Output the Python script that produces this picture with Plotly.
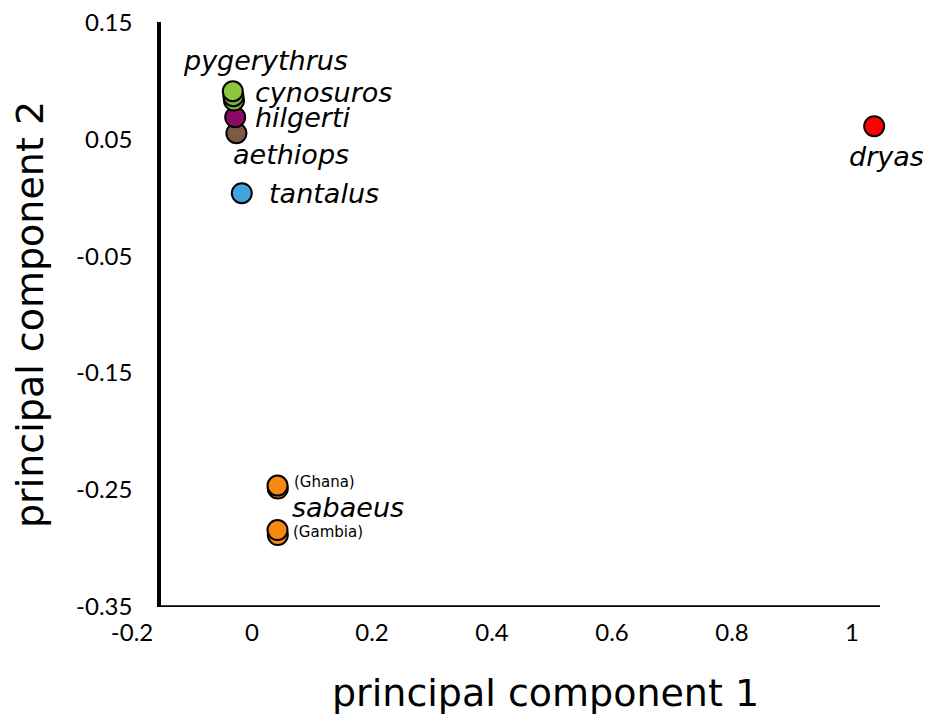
import plotly.graph_objects as go

# ---------------- data ----------------
GROUP = ["sabaeus", "sabaeus", "sabaeus", "sabaeus",
         "aethiops", "hilgerti", "cynosuros", "cynosuros", "pygerythrus",
         "tantalus", "dryas"]
SAMPLE = ["Gambia", "Gambia", "Ghana", "Ghana",
          "", "", "", "", "", "", ""]
PC1 = [0.043, 0.0425, 0.043, 0.0425,
       -0.026, -0.028, -0.030, -0.031, -0.032,
       -0.017, 1.037]
PC2 = [-0.2885, -0.2842, -0.2487, -0.2462,
       0.0551, 0.0688, 0.0830, 0.0868, 0.0910,
       0.0038, 0.0611]

X_TICKS = [-0.2, 0, 0.2, 0.4, 0.6, 0.8, 1]
X_TICK_TEXT = ["-0.2", "0", "0.2", "0.4", "0.6", "0.8", "1"]
Y_TICKS = [-0.35, -0.25, -0.15, -0.05, 0.05, 0.15]
Y_TICK_TEXT = ["-0.35", "-0.25", "-0.15", "-0.05", "0.05", "0.15"]

X_RANGE = [-0.2, 1.0467]
Y_RANGE = [-0.35, 0.1502]
X_CROSS = -0.155  # where the vertical axis line sits

LABELS = ["pygerythrus", "cynosuros", "hilgerti", "aethiops", "tantalus", "dryas", "sabaeus"]
SUBLABELS = ["Ghana", "Gambia"]

# ---------------- styles ----------------
COLORS = {
    "sabaeus": "#F7890F",
    "aethiops": "#7B5B45",
    "hilgerti": "#8A0A66",
    "cynosuros": "#7FB23A",
    "pygerythrus": "#8DC63F",
    "tantalus": "#3FA3DC",
    "dryas": "#FF0000",
}
# label offsets in px relative to one point of each group (xanchor, xshift, yshift)
LABEL_STYLE = {
    "pygerythrus": ("left", -52, 31),
    "cynosuros": ("left", 19, 8),
    "hilgerti": ("left", 18, 0),
    "aethiops": ("left", -5, -21),
    "tantalus": ("left", 25, 0),
    "dryas": ("center", 12, -30),
    "sabaeus": ("left", 12, -22),
}
SUB_STYLE = {"Ghana": (14, 4), "Gambia": (13, -2)}

fig = go.Figure()
fig.add_trace(go.Scatter(
    x=PC1, y=PC2, mode="markers",
    marker=dict(size=20, color=[COLORS[g] for g in GROUP],
                line=dict(color="black", width=2)),
    cliponaxis=False, showlegend=False, hoverinfo="skip",
))

label_font = dict(family="DejaVu Sans", size=27, color="black", style="italic")
for lab in LABELS:
    if lab == "sabaeus":
        i = GROUP.index("sabaeus") + 3
    elif lab == "pygerythrus":
        i = len(GROUP) - 1 - GROUP[::-1].index(lab)
    else:
        i = GROUP.index(lab)
    anchor, xs, ys = LABEL_STYLE[lab]
    fig.add_annotation(x=PC1[i], y=PC2[i], xref="x", yref="y", text=lab,
                       showarrow=False, xanchor=anchor, yanchor="middle",
                       xshift=xs, yshift=ys, font=label_font)

for s in SUBLABELS:
    i = len(SAMPLE) - 1 - SAMPLE[::-1].index(s)
    xs, ys = SUB_STYLE[s]
    fig.add_annotation(x=PC1[i], y=PC2[i], xref="x", yref="y", text="(" + s + ")",
                       showarrow=False, xanchor="left", yanchor="middle",
                       xshift=xs, yshift=ys,
                       font=dict(family="DejaVu Sans", size=15, color="black"))

ypos = (X_CROSS - X_RANGE[0]) / (X_RANGE[1] - X_RANGE[0])

# horizontal axis line starting at the vertical axis
fig.add_shape(type="line", xref="paper", yref="y", x0=ypos, x1=1,
              y0=Y_RANGE[0], y1=Y_RANGE[0], line=dict(color="black", width=3.5))

tick_font = dict(family="Lato", size=24, color="black")
title_font = dict(family="DejaVu Sans", size=38, color="black")

# x-axis title (centred under the drawn axis line span)
fig.add_annotation(text="principal component 1", xref="paper", yref="paper",
                   x=(ypos + 1) / 2 + 0.035, y=0, xanchor="center", yanchor="middle",
                   yshift=-86, showarrow=False, font=title_font)

fig.update_layout(
    width=923, height=714,
    margin=dict(l=124, r=51, t=14, b=115),
    plot_bgcolor="white", paper_bgcolor="white",
    xaxis=dict(range=X_RANGE, tickvals=X_TICKS, ticktext=X_TICK_TEXT,
               showgrid=False, zeroline=False, showline=False, ticks="",
               tickfont=tick_font, ticklabelstandoff=9, automargin=False,
               ticklabeloverflow="allow"),
    yaxis=dict(range=Y_RANGE, tickvals=Y_TICKS, ticktext=Y_TICK_TEXT,
               anchor="free", position=ypos,
               showgrid=False, zeroline=False, showline=True, linecolor="black",
               linewidth=3.5, ticks="", tickfont=tick_font, ticklabelstandoff=20,
               automargin=False, ticklabeloverflow="allow",
               title=dict(text="principal component 2", font=title_font, standoff=24)),
)

fig.write_html("out.html")
